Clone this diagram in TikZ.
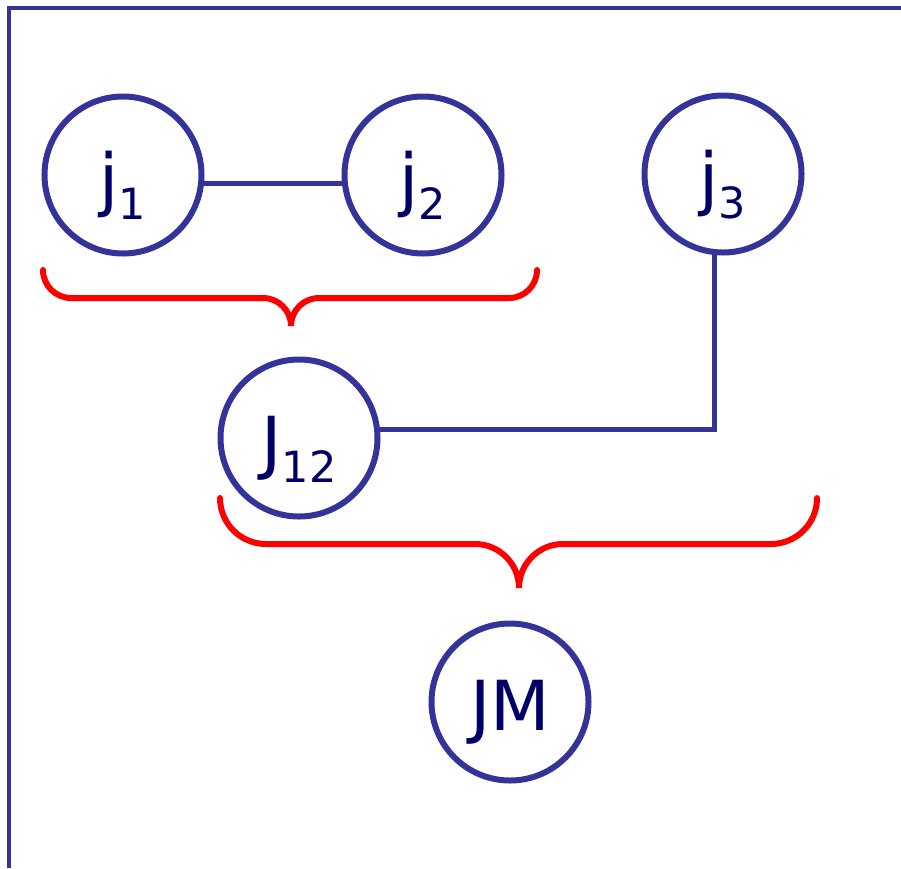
\documentclass[tikz,border=0pt]{standalone}
\usepackage{fontspec}
\setmainfont{DejaVu Sans}
\definecolor{navy}{HTML}{333399}
\definecolor{ink}{HTML}{000066}
\definecolor{bracered}{HTML}{FF0000}
\newcommand{\sbx}[1]{\raisebox{-16pt}{\fontsize{43}{43}\selectfont #1}}
\begin{document}
\begin{tikzpicture}[x=1pt,y=1pt,
  ball/.style={circle,draw=navy,line width=6pt,minimum size=157pt,inner sep=0pt,
    text=ink,font=\fontsize{69}{69}\selectfont,text height=56pt,text depth=0pt},
  conn/.style={draw=navy,line width=4.5pt},
  brace/.style={draw=bracered,line width=6pt,line cap=round}]
\useasboundingbox (0,0) rectangle (901,-868);
\draw[navy,line width=4.5pt] (9,-868) -- (9,-8) -- (901,-8);
\node[ball] (j1) at (123,-175) {j\sbx{1}};
\node[ball] (j2) at (423,-175) {j\sbx{2}};
\node[ball] (j3) at (723,-174) {j\sbx{3}};
\node[ball] (J12) at (299,-438) {J\sbx{12}};
\node[ball] (JM) at (510,-702) {JM};
\draw[conn] (j1.-6.5) -- (j2.186.5);
\draw[conn] (J12.6) -| (j3.264);
% brace 1
\draw[brace] (43,-270) arc[start angle=180,end angle=270,radius=28] -- (263,-298)
  arc[start angle=90,end angle=0,radius=28]
  arc[start angle=180,end angle=90,radius=28] -- (509,-298)
  arc[start angle=270,end angle=360,radius=28];
% brace 2
\draw[brace] (220,-498) arc[start angle=180,end angle=270,radius=46] -- (475,-544)
  arc[start angle=90,end angle=0,radius=44]
  arc[start angle=180,end angle=90,radius=44] -- (771,-544)
  arc[start angle=270,end angle=360,radius=46];
\end{tikzpicture}
\end{document}
